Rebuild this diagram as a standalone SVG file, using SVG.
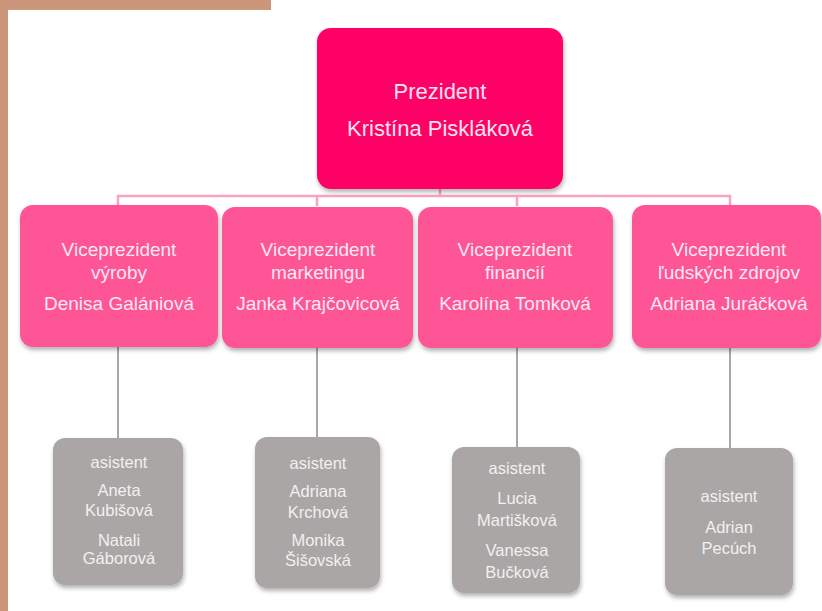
<svg xmlns="http://www.w3.org/2000/svg" width="822" height="611" viewBox="0 0 822 611">
<style>
.t{font-family:"Liberation Sans",Arial,sans-serif;text-anchor:middle}
.pres{fill:#ff0066}
.vp{fill:#fe5597}
.as{fill:#aaa6a6}
.tp{fill:#fde4ee;font-size:22px}
.tv{fill:#fde8f0;font-size:19px}
.ta{fill:#f2f0f0;font-size:16.5px}
.cp{stroke:#f9a3c3;stroke-width:2.5;fill:none}
.cg{stroke:#a8a8a8;stroke-width:2;fill:none}
</style>
<defs>
<filter id="sh" x="-10%" y="-10%" width="120%" height="125%">
<feDropShadow dx="1" dy="3" stdDeviation="2" flood-color="#000" flood-opacity="0.3"/>
</filter>
</defs>
<rect width="822" height="611" fill="#ffffff"/>
<rect x="0" y="0" width="271" height="10" fill="#cc967a"/>
<rect x="0" y="0" width="8" height="611" fill="#cc967a"/>
<g id="connectors">
<path class="cp" d="M440 188V196M118 205V196H730V205M317 196V206M517 196V206"/>
<path class="cg" d="M118 347V438M317 348V437M517 348V447M730 348V448"/>
</g>
<g id="president">
<rect class="pres" x="317" y="28" width="246" height="161" rx="14" filter="url(#sh)"/>
<text class="t tp" x="440" y="99">Prezident</text>
<text class="t tp" x="440" y="136">Kristína Piskláková</text>
</g>
<g id="vp1">
<rect class="vp" x="20" y="205" width="198" height="142" rx="13" filter="url(#sh)"/>
<text class="t tv" x="119" y="256">Viceprezident</text>
<text class="t tv" x="119" y="279">výroby</text>
<text class="t tv" x="119" y="310">Denisa Galániová</text>
</g>
<g id="vp2">
<rect class="vp" x="222" y="207" width="191" height="141" rx="13" filter="url(#sh)"/>
<text class="t tv" x="318" y="256">Viceprezident</text>
<text class="t tv" x="318" y="279">marketingu</text>
<text class="t tv" x="318" y="310">Janka Krajčovicová</text>
</g>
<g id="vp3">
<rect class="vp" x="418" y="207" width="195" height="141" rx="13" filter="url(#sh)"/>
<text class="t tv" x="515" y="256">Viceprezident</text>
<text class="t tv" x="515" y="279">financií</text>
<text class="t tv" x="515" y="310">Karolína Tomková</text>
</g>
<g id="vp4">
<rect class="vp" x="632" y="205" width="189" height="143" rx="13" filter="url(#sh)"/>
<text class="t tv" x="729" y="256">Viceprezident</text>
<text class="t tv" x="729" y="279">ľudských zdrojov</text>
<text class="t tv" x="729" y="310">Adriana Juráčková</text>
</g>
<g id="as1">
<rect class="as" x="53" y="438" width="130" height="147" rx="12" filter="url(#sh)"/>
<text class="t ta" x="119" y="468">asistent</text>
<text class="t ta" x="119" y="496">Aneta</text>
<text class="t ta" x="119" y="516">Kubišová</text>
<text class="t ta" x="119" y="546">Natali</text>
<text class="t ta" x="119" y="564">Gáborová</text>
</g>
<g id="as2">
<rect class="as" x="255" y="437" width="125" height="151" rx="12" filter="url(#sh)"/>
<text class="t ta" x="318" y="469">asistent</text>
<text class="t ta" x="318" y="497">Adriana</text>
<text class="t ta" x="318" y="518">Krchová</text>
<text class="t ta" x="318" y="546">Monika</text>
<text class="t ta" x="318" y="566">Šišovská</text>
</g>
<g id="as3">
<rect class="as" x="452" y="447" width="128" height="146" rx="12" filter="url(#sh)"/>
<text class="t ta" x="517" y="474">asistent</text>
<text class="t ta" x="517" y="504">Lucia</text>
<text class="t ta" x="517" y="526">Martišková</text>
<text class="t ta" x="517" y="556">Vanessa</text>
<text class="t ta" x="517" y="578">Bučková</text>
</g>
<g id="as4">
<rect class="as" x="665" y="448" width="128" height="147" rx="12" filter="url(#sh)"/>
<text class="t ta" x="729" y="502">asistent</text>
<text class="t ta" x="729" y="533">Adrian</text>
<text class="t ta" x="729" y="554">Pecúch</text>
</g>
</svg>
